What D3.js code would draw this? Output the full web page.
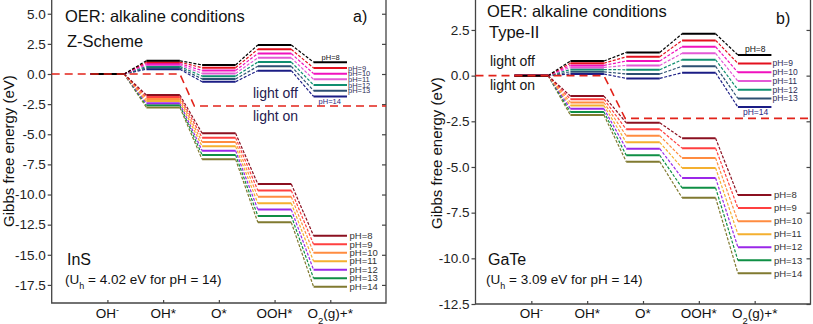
<!DOCTYPE html>
<html><head><meta charset="utf-8">
<script src="https://cdn.jsdelivr.net/npm/d3@7"></script>
<style>
body{margin:0;background:#fff;}
svg{display:block;font-family:"Liberation Sans",Arial,sans-serif;}
</style></head><body>
<svg id="chart" width="813" height="324"></svg>
<script>
// ---------------- data ----------------
const categories = ["OH-", "OH*", "O*", "OOH*", "O2(g)+*"];
const pHLabels = ["pH=8", "pH=9", "pH=10", "pH=11", "pH=12", "pH=13", "pH=14"];
const lightOffColors = ["#000000", "#e3101e", "#f012be", "#e35ad6", "#0f8f70", "#2c4f72", "#1b1d85"];
const lightOnColors  = ["#8b1020", "#ff4040", "#ff8c40", "#f4b030", "#9a28e8", "#0f8f45", "#807a30"];

// InS (Z-Scheme) — rows: OH-, OH*, O*, OOH*, O2(g)+* ; columns: pH 8..14
const insLightOff = [
  [0, 0, 0, 0, 0, 0, 0],
  [1.10, 0.98, 0.86, 0.75, 0.63, 0.51, 0.40],
  [0.75, 0.52, 0.29, 0.05, -0.18, -0.41, -0.64],
  [2.41, 2.05, 1.70, 1.34, 0.99, 0.64, 0.28],
  [0.98, 0.50, 0.03, -0.44, -0.91, -1.38, -1.86]
];
const insLightOn = [
  [0, 0, 0, 0, 0, 0, 0],
  [-1.74, -1.91, -2.08, -2.25, -2.43, -2.60, -2.77],
  [-4.92, -5.28, -5.64, -6.00, -6.36, -6.72, -7.08],
  [-9.13, -9.66, -10.19, -10.72, -11.25, -11.78, -12.31],
  [-13.42, -14.13, -14.83, -15.54, -16.24, -16.95, -17.65]
];
const insSepX = [0, 2.3, 2.56, 6];
const insSepY = [0, 0, -2.66, -2.66];
const insTicks = [5.0, 2.5, 0.0, -2.5, -5.0, -7.5, -10.0, -12.5, -15.0, -17.5];

// GaTe (Type-II)
const gateLightOff = [
  [0, 0, 0, 0, 0, 0, 0],
  [0.80, 0.68, 0.56, 0.45, 0.33, 0.21, 0.09],
  [1.27, 1.03, 0.80, 0.56, 0.32, 0.09, -0.15],
  [2.29, 1.93, 1.58, 1.22, 0.87, 0.51, 0.16],
  [1.13, 0.67, 0.18, -0.30, -0.77, -1.25, -1.72]
];
const gateLightOn = [
  [0, 0, 0, 0, 0, 0, 0],
  [-1.12, -1.29, -1.47, -1.64, -1.81, -1.99, -2.16],
  [-2.58, -2.94, -3.29, -3.65, -4.00, -4.36, -4.71],
  [-3.43, -3.97, -4.51, -5.05, -5.60, -6.14, -6.68],
  [-6.54, -7.25, -7.97, -8.68, -9.39, -10.11, -10.82]
];
const gateSepX = [0, 2.3, 2.68, 6];
const gateSepY = [0, 0, -2.34, -2.34];
const gateTicks = [2.5, 0.0, -2.5, -5.0, -7.5, -10.0, -12.5];

// ---------------- drawing ----------------
const svg = d3.select("#chart");
const HALF = 0.3;

function catLabel(sel, name) {
  sel.text(null);
  if (name === "OH-") {
    sel.append("tspan").text("OH");
    sel.append("tspan").attr("baseline-shift", "super").attr("font-size", "9px").text("-");
  } else if (name === "O2(g)+*") {
    sel.append("tspan").text("O");
    sel.append("tspan").attr("baseline-shift", "sub").attr("font-size", "9.5px").text("2");
    sel.append("tspan").text("(g)+*");
  } else sel.text(name);
}

function drawPanel(p) {
  const g = svg.append("g");
  const x = d3.scaleLinear().domain([0, 6]).range([p.x0, p.x1]);
  const y = d3.scaleLinear().domain(p.yDomain).range([p.yBottom, 0]);

  // frame
  g.append("path")
    .attr("d", `M${p.x0},-2V${p.yBottom}H${p.x1}V-2`)
    .attr("fill", "none").attr("stroke", "#444").attr("stroke-width", 1.3);

  // left axis
  const ya = g.append("g").attr("transform", `translate(${p.x0},0)`)
    .call(d3.axisLeft(y).tickValues(p.ticks).tickSize(4).tickPadding(2)
      .tickFormat(d => d.toFixed(1)));
  ya.select(".domain").remove();
  ya.selectAll("line").attr("stroke", "#444").attr("stroke-width", 1.2);
  ya.selectAll("text").attr("font-size", "13.5px").attr("fill", "#222")
    .attr("font-family", "Liberation Sans, Arial, sans-serif");

  // right mirrored ticks
  const yr = g.append("g").attr("transform", `translate(${p.x1},0)`)
    .call(d3.axisRight(y).tickValues(p.ticks).tickSize(-4).tickFormat(""));
  yr.select(".domain").remove();
  yr.selectAll("line").attr("stroke", "#444").attr("stroke-width", 1.2);

  // bottom axis
  const xa = g.append("g").attr("transform", `translate(0,${p.yBottom})`)
    .call(d3.axisBottom(x).tickValues([1, 2, 3, 4, 5]).tickSize(-3).tickFormat(""));
  xa.select(".domain").remove();
  xa.selectAll("line").attr("stroke", "#444").attr("stroke-width", 1.2);
  categories.forEach((c, i) => {
    g.append("text").attr("x", x(i + 1)).attr("y", 318).attr("text-anchor", "middle")
      .attr("font-size", "13.5px").attr("fill", "#111").call(catLabel, c);
  });

  // y label
  g.append("text").attr("transform", `translate(${p.ylabX},${p.ylabY}) rotate(-90)`)
    .attr("text-anchor", "middle").attr("font-size", "15px").attr("fill", "#111")
    .text("Gibbs free energy (eV)");

  // energy diagrams
  function group(data, colors, lblCfg) {
    for (let s = data[0].length - 1; s >= 0; s--) {
      const col = colors[s];
      for (let i = 0; i < data.length; i++) {
        const v = data[i][s];
        g.append("line")
          .attr("x1", x(i + 1 - HALF)).attr("x2", x(i + 1 + HALF))
          .attr("y1", y(v)).attr("y2", y(v))
          .attr("stroke", col).attr("stroke-width", 2);
        if (i < data.length - 1) {
          g.append("line")
            .attr("x1", x(i + 1 + HALF)).attr("y1", y(v))
            .attr("x2", x(i + 2 - HALF)).attr("y2", y(data[i + 1][s]))
            .attr("stroke", col).attr("stroke-width", 1.2)
            .attr("stroke-dasharray", "3,1.6");
        }
      }
      // pH labels at O2 step
      const last = data[data.length - 1][s];
      const yl = y(last);
      let lx, ly;
      const st = x(5 - HALF), en = x(5 + HALF);
      if (lblCfg.mode === "upper" && s === 0) { lx = st + lblCfg.firstDx; ly = yl - 2.5; }
      else if (lblCfg.mode === "upper" && s === 6) { lx = st + 5; ly = yl + 8; }
      else { lx = en + lblCfg.dx; ly = yl + lblCfg.dy; }
      g.append("text").attr("x", lx).attr("y", ly)
        .attr("font-size", lblCfg.size).attr("fill", lblCfg.color(s))
        .text(pHLabels[s]);
    }
  }
  group(p.on, lightOnColors, {mode: "lower", dx: 2.5, dy: 3.2, size: "9.5px", color: () => "#333"});
  group(p.off, lightOffColors, {mode: "upper", firstDx: p.firstDx, dx: 1, dy: 2.8, size: p.upperSize,
    color: s => s === 0 ? "#111" : (s === 6 ? "#2a2a80" : "#2e2e55")});

  // separator dashed line
  g.append("path")
    .datum(p.sepX.map((d, i) => [d, p.sepY[i]]))
    .attr("d", d3.line().x(d => x(d[0])).y(d => y(d[1])))
    .attr("fill", "none").attr("stroke", "#e2231a").attr("stroke-width", 1.6)
    .attr("stroke-dasharray", "8,5");

  // texts
  g.append("text").attr("x", p.titleX).attr("y", p.titleY).attr("font-size", "16.5px").attr("fill", "#111")
    .text("OER: alkaline conditions");
  g.append("text").attr("x", p.titleX + 2).attr("y", p.subY).attr("font-size", "16.5px").attr("fill", "#111")
    .text(p.scheme);
  g.append("text").attr("x", p.tagX).attr("y", p.tagY).attr("font-size", "16px").attr("fill", "#111")
    .text(p.tag);
  g.append("text").attr("x", p.lightX).attr("y", p.offY).attr("font-size", "14px").attr("fill", p.lightColor)
    .text("light off");
  g.append("text").attr("x", p.lightX).attr("y", p.onY).attr("font-size", "14px").attr("fill", p.lightColor)
    .text("light on");
  g.append("text").attr("x", p.matX).attr("y", 265).attr("font-size", "16px").attr("fill", "#111")
    .text(p.material);
  const u = g.append("text").attr("x", p.matX - 2).attr("y", 284).attr("font-size", "13.5px").attr("fill", "#111");
  u.append("tspan").text("(U");
  u.append("tspan").attr("baseline-shift", "sub").attr("font-size", "9px").text("h");
  u.append("tspan").text(` = ${p.uh} eV for pH = 14)`);
}

drawPanel({
  x0: 51.7, x1: 386, yBottom: 303, yDomain: [-19, 6.14], ticks: insTicks,
  off: insLightOff, on: insLightOn, sepX: insSepX, sepY: insSepY, firstDx: 8, upperSize: "7.5px",
  ylabX: 14, ylabY: 151,
  titleX: 65, titleY: 22, subY: 47, scheme: "Z-Scheme", tagX: 353, tagY: 22, tag: "a)",
  lightX: 253, offY: 98, onY: 121, lightColor: "#1f2050",
  matX: 67, material: "InS", uh: "4.02"
});
drawPanel({
  x0: 475.5, x1: 810.5, yBottom: 304, yDomain: [-12.5, 4.14], ticks: gateTicks,
  off: gateLightOff, on: gateLightOn, sepX: gateSepX, sepY: gateSepY, firstDx: 7, upperSize: "8.5px",
  ylabX: 442, ylabY: 153,
  titleX: 487, titleY: 17, subY: 38, scheme: "Type-II", tagX: 776, tagY: 24, tag: "b)",
  lightX: 490, offY: 66, onY: 90, lightColor: "#151515",
  matX: 488, material: "GaTe", uh: "3.09"
});
</script>
</body></html>
